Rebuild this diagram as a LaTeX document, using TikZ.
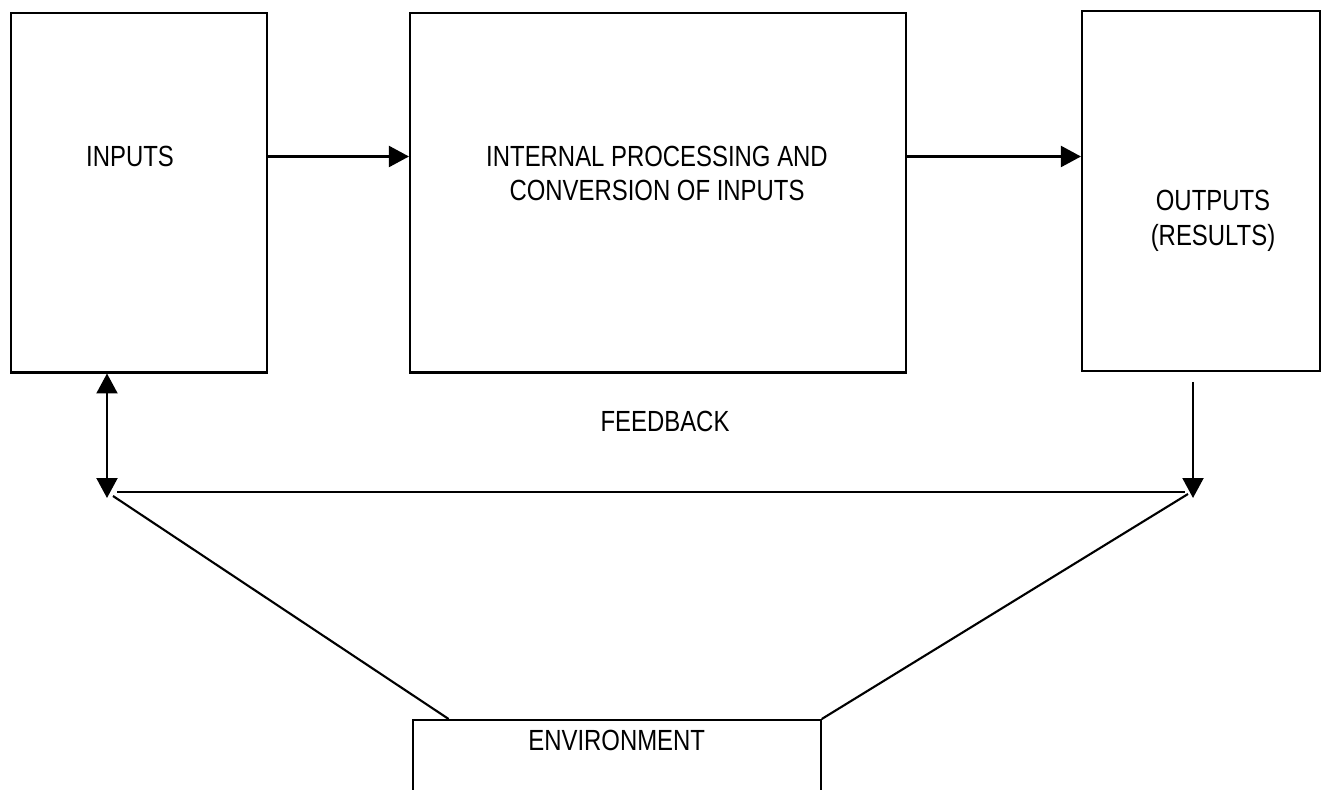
\documentclass[tikz,border=0pt]{standalone}
\usepackage{fontspec}
\setmainfont{Liberation Sans}[FakeStretch=0.82]
\usepackage{tikz}
\usetikzlibrary{positioning, calc, arrows.meta}

\begin{document}
\begin{tikzpicture}[x=0.02cm, y=-0.02cm, line width=1.2pt,
    >={Triangle[length=0.4cm, width=0.42cm]},
    box/.style={draw, rectangle, inner sep=0pt},
    txt/.style={font=\fontsize{16.6}{19.6}\selectfont, align=center, inner sep=0pt}]

  \clip (0,0) rectangle (1322,790);

  % system boxes

  \node[box, minimum width=256*0.02cm, minimum height=359.5*0.02cm] (inputs) at (138.7,192.7) {};
  \node[box, minimum width=496*0.02cm, minimum height=359.5*0.02cm] (process) at (658,192.7) {};
  \node[box, minimum width=238*0.02cm, minimum height=360*0.02cm] (outputs) at (1201,191) {};
  \node[box, minimum width=408*0.02cm, minimum height=100*0.02cm, anchor=north] (env) at (616.7,719) {};

  % texts

  \node[txt] (intext) at (130,156.5) {INPUTS};
  \node[txt] (proctext) at (657,173.7) {INTERNAL PROCESSING AND\\CONVERSION OF INPUTS};
  \node[txt] (outtext) at (1213,221) {OUTPUTS\\(RESULTS)};
  \node[txt] (fbtext) at (665,421) {FEEDBACK};
  \node[txt] (envtext) at (616.7,740) {ENVIRONMENT};

  % flow arrows

  \draw[->] (inputs.east |- intext) -- (process.west |- intext);
  \draw[->] (process.east |- intext) -- (outputs.west |- intext);

  % feedback loop

  \coordinate (fbleft) at (107,498);
  \coordinate (fbright) at (1193,498);
  \coordinate (fbstart) at (117,492);
  \coordinate (fbend) at (1185,492);
  \coordinate (outdrop) at (1193,382);

  \draw[<->] (inputs.south -| fbleft) -- (fbleft);
  \draw[->] (outdrop) -- (fbright);
  \draw (fbstart) -- (fbend);

  % environment links

  \coordinate (envleft) at ($(env.north west)+(37,0)$);
  \draw (envleft) -- ($(fbleft)+(6,-2)$);
  \draw (env.north east) -- ($(fbright)+(-5,-4)$);

\end{tikzpicture}
\end{document}
